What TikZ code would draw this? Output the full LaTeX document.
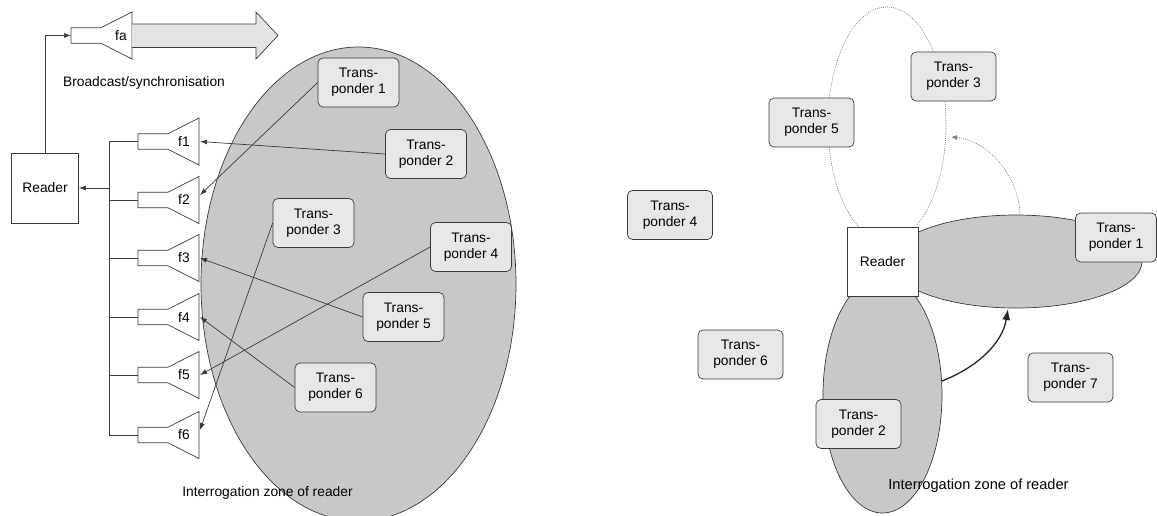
\documentclass[tikz,border=0pt]{standalone}
\usepackage{fontspec}
\setmainfont{Liberation Sans}
\usetikzlibrary{shapes.geometric,arrows.meta}
\definecolor{zonegray}{HTML}{C7C8CA}
\definecolor{tboxfill}{HTML}{E6E7E9}
\definecolor{ln}{HTML}{3A3A3A}
\definecolor{arrfill}{HTML}{E3E3E3}
\definecolor{dotgray}{HTML}{808080}
\tikzset{
  base/.style={line width=0.7pt, draw=ln},
  tp/.style={base, fill=tboxfill, rounded corners=5pt, minimum width=81pt, minimum height=49pt, align=center, inner sep=1pt},
  tpr/.style={tp, minimum width=85pt},
  readerbox/.style={base, fill=white, minimum width=67pt, minimum height=70pt, inner sep=0pt},
  zone/.style={ellipse, base, fill=zonegray, inner sep=0pt},
  lbl/.style={inner sep=0pt},
  conn/.style={line width=0.7pt, draw=ln, -{Latex[length=7pt,width=5pt]}},
  wire/.style={line width=0.7pt, draw=ln},
  dotline/.style={line width=0.7pt, draw=dotgray, dash pattern=on 0.9pt off 1.1pt},
  horn/.pic={
    \draw[line width=0.7pt, draw=ln, fill=white] (-30,-7.8) -- (0,-7.8) -- (31,-23.5) -- (31,23.5) -- (0,7.8) -- (-30,7.8) -- cycle;
    \coordinate (-mouth) at (32,0);
    \coordinate (-back) at (-30,0);
  }
}
\begin{document}
\begin{tikzpicture}[x=1pt,y=-1pt, font=\fontsize{13.8}{16}\selectfont]
\useasboundingbox (0,0) rectangle (1157,515);

% ---------------- left diagram ----------------
\node[zone, minimum width=315pt, minimum height=474pt] (zoneL) at (358.5,284) {};

% broadcast horn and big arrow
\pic (ha) at (101,35.5) {horn};
\node[lbl] (fa) at (121,35.5) {fa};
\filldraw[line width=0.7pt, draw=ln, fill=arrfill] (132,24) -- (256,24) -- (256,12) -- (278,35.5) -- (256,59) -- (256,47.5) -- (132,47.5);
\node[lbl] (bc) at (144,83) {Broadcast/synchronisation};

% reader
\node[readerbox] (RL) at (45,188) {Reader};
\draw[conn] (RL.north) |- (ha-back);

% receiver horns
\pic (h1) at (168,141.5) {horn};
\pic (h2) at (168,200) {horn};
\pic (h3) at (168,258) {horn};
\pic (h4) at (168,317) {horn};
\pic (h5) at (168,375) {horn};
\pic (h6) at (168,435) {horn};
\node[lbl] (f1) at (184,141.5) {f1};
\node[lbl] (f2) at (184,200) {f2};
\node[lbl] (f3) at (184,258) {f3};
\node[lbl] (f4) at (184,317) {f4};
\node[lbl] (f5) at (184,375) {f5};
\node[lbl] (f6) at (184,435) {f6};

% bus
\coordinate (busTop) at (109,141.5);
\coordinate (busBot) at (109,435);
\draw[wire] (busTop) -- (busBot);
\foreach \h in {h1,h2,h3,h4,h5,h6} {\draw[wire] (\h-back -| busTop) -- (\h-back);}
\draw[conn] (RL.east -| busTop) -- (RL.east);

% transponders (left)
\node[tp] (L1) at (358.5,82.5) {Trans-\\ponder 1};
\node[tp] (L2) at (426,154) {Trans-\\ponder 2};
\node[tp] (L3) at (313.5,223) {Trans-\\ponder 3};
\node[tp] (L4) at (471,247) {Trans-\\ponder 4};
\node[tp] (L5) at (403.5,317) {Trans-\\ponder 5};
\node[tp] (L6) at (335.5,387.5) {Trans-\\ponder 6};

\draw[conn] (L1.west) -- ([yshift=5pt]h2-mouth);
\draw[conn] (L2.west) -- (h1-mouth);
\draw[conn] (L3.west) -- ([yshift=5pt]h6-mouth);
\draw[conn] (L4.west) -- (h5-mouth);
\draw[conn] (L5.west) -- (h3-mouth);
\draw[conn] (L6.west) -- (h4-mouth);

\node[lbl] (izL) at (267.5,493) {Interrogation zone of reader};

% ---------------- right diagram ----------------
\node[zone, minimum width=119pt, minimum height=236pt] (zoneV) at (882.5,395) {};
\node[zone, minimum width=252pt, minimum height=93pt] (zoneH) at (1016,261.5) {};
\draw[dotline] (887,124) ellipse [x radius=59, y radius=117];

\coordinate (dStart) at (1020,214);
\coordinate (dEnd) at (951,137);
\draw[dotline, -{Latex[length=6pt,width=5pt]}] (dStart) .. controls (1018,172) and (985,140) .. (dEnd);

\coordinate (sStart) at (942,381);
\coordinate (sEnd) at (1008,309);
\draw[line width=1.3pt, draw=black!85, -{Latex[length=11pt,width=8pt]}] (sStart) .. controls (975,368) and (1002,345) .. (sEnd);

\node[readerbox, minimum width=71pt, minimum height=69pt] (RR) at (882.5,261.5) {Reader};

\node[tpr] (R3) at (953.5,76.5) {Trans-\\ponder 3};
\node[tpr] (R5) at (811.5,122.5) {Trans-\\ponder 5};
\node[tpr] (R4) at (670,215) {Trans-\\ponder 4};
\node[tp] (R1) at (1116,237.5) {Trans-\\ponder 1};
\node[tpr] (R6) at (740.5,354.5) {Trans-\\ponder 6};
\node[tpr] (R2) at (858.5,424) {Trans-\\ponder 2};
\node[tpr] (R7) at (1070.5,377.5) {Trans-\\ponder 7};

\node[lbl, font=\fontsize{14.6}{16}\selectfont] (izR) at (978.5,486) {Interrogation zone of reader};
\end{tikzpicture}
\end{document}
